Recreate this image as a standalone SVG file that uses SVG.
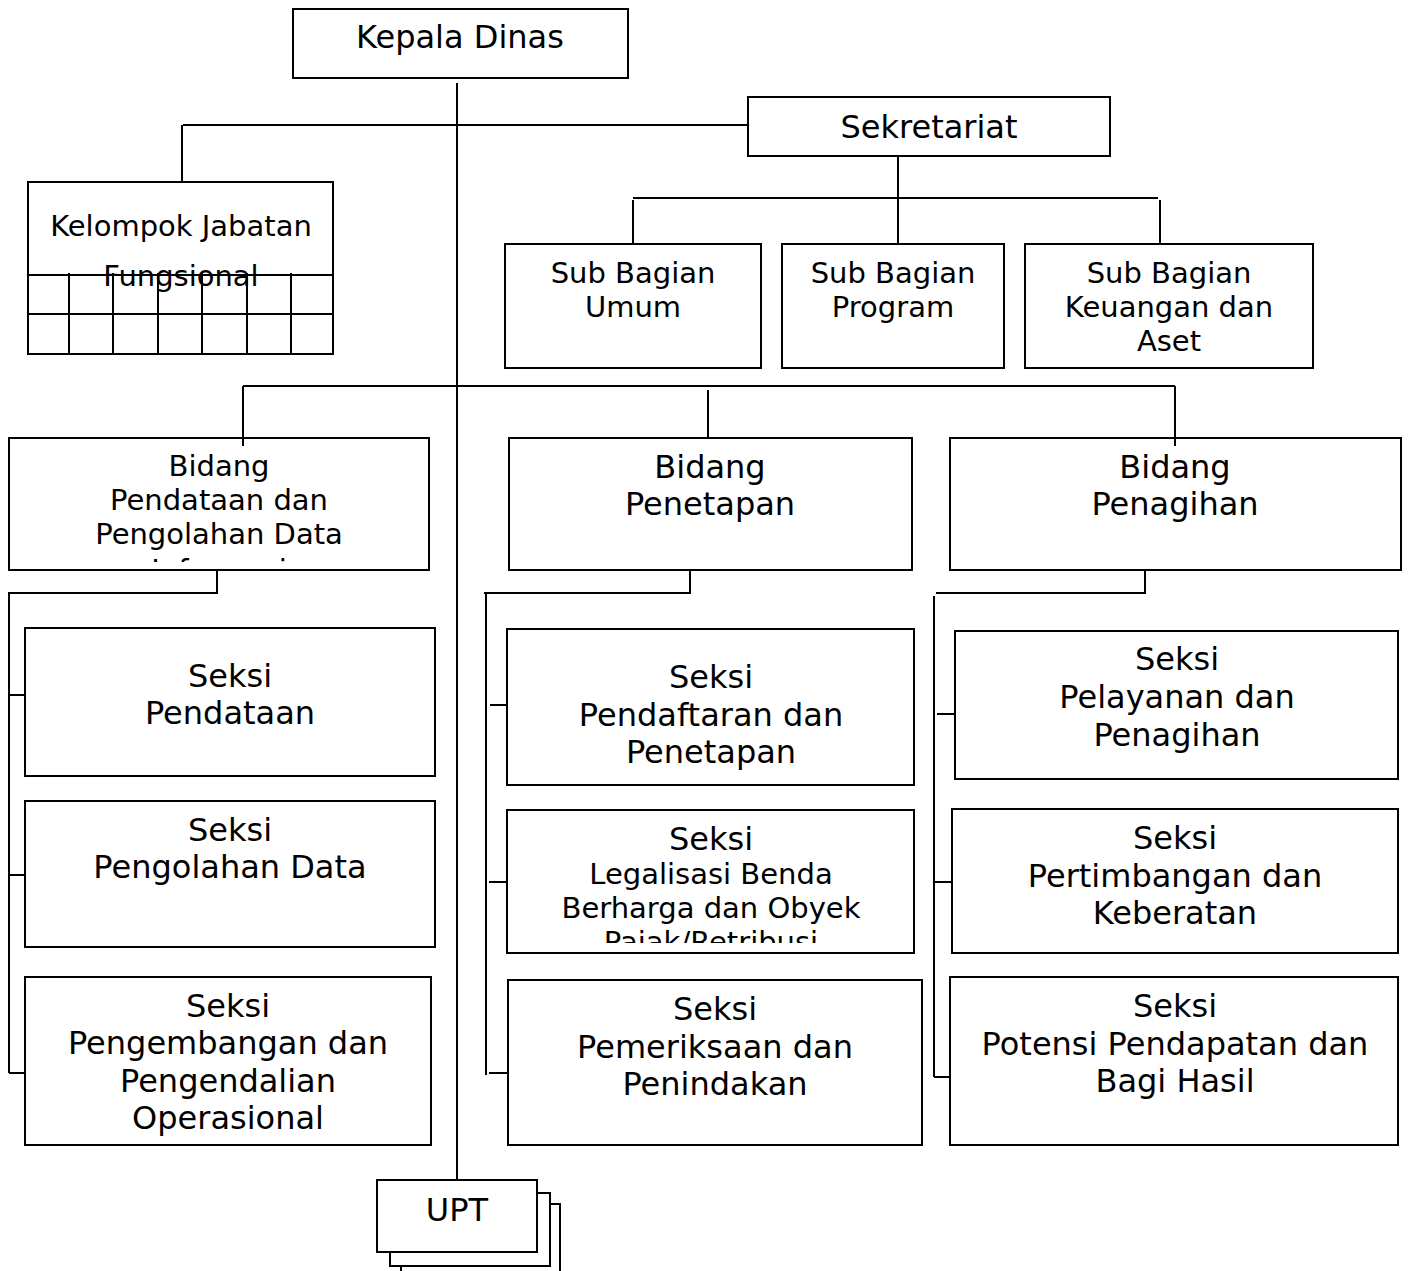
<svg xmlns="http://www.w3.org/2000/svg" width="1408" height="1271" viewBox="0 0 1408 1271">
<style>
.b{fill:#fff;stroke:#000;stroke-width:2}
.c{fill:none;stroke:#000;stroke-width:2}
text{font-family:"DejaVu Sans",sans-serif;fill:#000;text-anchor:middle}
.l{font-size:32px}
.s{font-size:29px}
</style>
<defs>
<clipPath id="cp1"><rect x="10" y="439" width="418" height="123"/></clipPath>
<clipPath id="cp2"><rect x="508" y="811" width="405" height="132"/></clipPath>
</defs>
<rect width="1408" height="1271" fill="#fff"/>
<g id="kepala"><rect class="b" x="293" y="9" width="335" height="69"/><text class="l" x="460" y="48">Kepala Dinas</text></g>
<g id="sekretariat"><rect class="b" x="748" y="97" width="362" height="59"/><text class="l" x="929" y="138">Sekretariat</text></g>
<g id="kelompok">
<rect class="b" x="28" y="182" width="305" height="172"/>
<path class="c" d="M28 275H333M28 314H333M69 273V354M113 273V354M158 273V354M202 273V354M247 273V354M291 273V354"/>
<text class="s" x="181" y="236">Kelompok Jabatan</text>
<text class="s" x="181" y="286">Fungsional</text>
</g>
<g id="subumum"><rect class="b" x="505" y="244" width="256" height="124"/><text class="s" x="633" y="283">Sub Bagian</text><text class="s" x="633" y="317">Umum</text></g>
<g id="subprogram"><rect class="b" x="782" y="244" width="222" height="124"/><text class="s" x="893" y="283">Sub Bagian</text><text class="s" x="893" y="317">Program</text></g>
<g id="subkeuangan"><rect class="b" x="1025" y="244" width="288" height="124"/><text class="s" x="1169" y="283">Sub Bagian</text><text class="s" x="1169" y="317">Keuangan dan</text><text class="s" x="1169" y="351">Aset</text></g>
<g id="bidpendataan"><rect class="b" x="9" y="438" width="420" height="132"/>
<g clip-path="url(#cp1)"><text class="s" x="219" y="476">Bidang</text><text class="s" x="219" y="510">Pendataan dan</text><text class="s" x="219" y="544">Pengolahan Data</text><text class="s" x="219" y="580">Informasi</text></g></g>
<g id="bidpenetapan"><rect class="b" x="509" y="438" width="403" height="132"/><text class="l" x="710" y="478">Bidang</text><text class="l" x="710" y="515">Penetapan</text></g>
<g id="bidpenagihan"><rect class="b" x="950" y="438" width="451" height="132"/><text class="l" x="1175" y="478">Bidang</text><text class="l" x="1175" y="515">Penagihan</text></g>
<g id="skpendataan"><rect class="b" x="25" y="628" width="410" height="148"/><text class="l" x="230" y="687">Seksi</text><text class="l" x="230" y="724">Pendataan</text></g>
<g id="skpengolahan"><rect class="b" x="25" y="801" width="410" height="146"/><text class="l" x="230" y="841">Seksi</text><text class="l" x="230" y="878">Pengolahan Data</text></g>
<g id="skpengembangan"><rect class="b" x="25" y="977" width="406" height="168"/><text class="l" x="228" y="1017">Seksi</text><text class="l" x="228" y="1054">Pengembangan dan</text><text class="l" x="228" y="1092">Pengendalian</text><text class="l" x="228" y="1129">Operasional</text></g>
<g id="skpendaftaran"><rect class="b" x="507" y="629" width="407" height="156"/><text class="l" x="711" y="688">Seksi</text><text class="l" x="711" y="726">Pendaftaran dan</text><text class="l" x="711" y="763">Penetapan</text></g>
<g id="sklegalisasi"><rect class="b" x="507" y="810" width="407" height="143"/>
<g clip-path="url(#cp2)"><text class="l" x="711" y="850">Seksi</text><text class="s" x="711" y="884">Legalisasi Benda</text><text class="s" x="711" y="918">Berharga dan Obyek</text><text class="s" x="711" y="952">Pajak/Retribusi</text></g></g>
<g id="skpemeriksaan"><rect class="b" x="508" y="980" width="414" height="165"/><text class="l" x="715" y="1020">Seksi</text><text class="l" x="715" y="1058">Pemeriksaan dan</text><text class="l" x="715" y="1095">Penindakan</text></g>
<g id="skpelayanan"><rect class="b" x="955" y="631" width="443" height="148"/><text class="l" x="1177" y="670">Seksi</text><text class="l" x="1177" y="708">Pelayanan dan</text><text class="l" x="1177" y="746">Penagihan</text></g>
<g id="skpertimbangan"><rect class="b" x="952" y="809" width="446" height="144"/><text class="l" x="1175" y="849">Seksi</text><text class="l" x="1175" y="887">Pertimbangan dan</text><text class="l" x="1175" y="924">Keberatan</text></g>
<g id="skpotensi"><rect class="b" x="950" y="977" width="448" height="168"/><text class="l" x="1175" y="1017">Seksi</text><text class="l" x="1175" y="1055">Potensi Pendapatan dan</text><text class="l" x="1175" y="1092">Bagi Hasil</text></g>
<g id="upt">
<rect class="b" x="401" y="1204" width="159" height="90"/>
<rect class="b" x="390" y="1193" width="160" height="73"/>
<rect class="b" x="377" y="1180" width="160" height="72"/>
<text class="l" x="457" y="1221">UPT</text>
</g>
<g id="connectors">
<path class="c" d="M457 83V1180"/>
<path class="c" d="M183 125H748M182 125V182"/>
<path class="c" d="M898 156V244M633 198H1158M633 200V243M1160 200V243"/>
<path class="c" d="M243 386H1175M243 386V446M708 390V437M1175 386V446"/>
<path class="c" d="M217 570V593H9V1073M9 695H25M9 875H25M9 1073H25"/>
<path class="c" d="M690 570V593H484M486 593V1075M490 705H506M489 882H506M489 1073H507"/>
<path class="c" d="M1145 570V593H936M934 596V1077M937 714H955M934 882H952M934 1077H950"/>
</g>
</svg>
